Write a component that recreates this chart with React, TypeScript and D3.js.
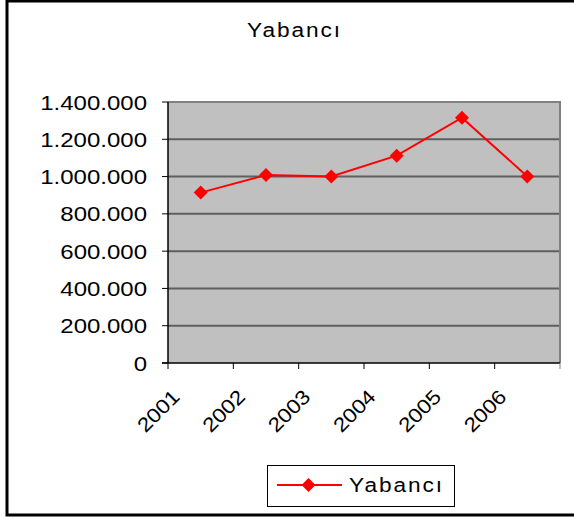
import React from "react";
import * as d3 from "d3";

const years = ["2001", "2002", "2003", "2004", "2005", "2006"];
const values = [914000, 1008000, 1001000, 1112000, 1316000, 1001000];
const yTicks = [0, 200000, 400000, 600000, 800000, 1000000, 1200000, 1400000];
const seriesName = "Yabancı";
const chartTitle = "Yabancı";

const W = 574;
const H = 519;
const plot = { left: 168, right: 560, top: 102, bottom: 363 };
const FONT = "'Liberation Sans', Arial, sans-serif";

const fmt = (v: number) =>
  v === 0 ? "0" : d3.format(",")(v).replace(/,/g, ".");

const diamond = (cx: number, cy: number, r: number) =>
  `M${cx},${cy - r}L${cx + r},${cy}L${cx},${cy + r}L${cx - r},${cy}Z`;

export default function App() {
  const x = d3
    .scaleBand<string>()
    .domain(years)
    .range([plot.left, plot.right])
    .padding(0);
  const y = d3
    .scaleLinear()
    .domain([0, 1400000])
    .range([plot.bottom, plot.top]);

  const line = d3
    .line<number>()
    .x((_, i) => (x(years[i]) as number) + x.bandwidth() / 2)
    .y((d) => y(d));

  const tickXs = [...years.map((yr) => x(yr) as number), plot.right];

  return (
    <svg
      width={W}
      height={H}
      style={{ position: "absolute", left: 0, top: 0, background: "#fff" }}
      fontFamily={FONT}
    >
      <rect x={0} y={0} width={W} height={H} fill="#fff" />
      {/* outer frame */}
      <rect
        x={7}
        y={1}
        width={W + 10}
        height={514}
        fill="none"
        stroke="#000"
        strokeWidth={3}
      />
      {/* title */}
      <text
        transform={`translate(247,37) scale(1.08,1)`}
        fontSize={21}
        letterSpacing={1.8}
        fill="#000"
      >
        {chartTitle}
      </text>

      {/* plot background */}
      <rect
        x={plot.left}
        y={plot.top}
        width={plot.right - plot.left}
        height={plot.bottom - plot.top}
        fill="#C0C0C0"
      />
      {/* gridlines */}
      {yTicks
        .filter((t) => t > 0 && t < 1400000)
        .map((t) => (
          <line
            key={t}
            x1={plot.left}
            x2={plot.right}
            y1={y(t)}
            y2={y(t)}
            stroke="#5f5f5f"
            strokeWidth={2}
          />
        ))}
      {/* plot border top/right */}
      <path
        d={`M${plot.left},${plot.top}H${plot.right}V${plot.bottom}`}
        fill="none"
        stroke="#808080"
        strokeWidth={2}
      />
      {/* y axis */}
      <line
        x1={plot.left}
        x2={plot.left}
        y1={plot.top}
        y2={plot.bottom}
        stroke="#000"
        strokeWidth={1.5}
      />
      {yTicks.map((t) => (
        <g key={t}>
          <line
            x1={plot.left - 6}
            x2={plot.left}
            y1={y(t)}
            y2={y(t)}
            stroke="#000"
            strokeWidth={1}
          />
          <text
            transform={`translate(${plot.left - 21},${y(t) + 7.5}) scale(1.2,1)`}
            textAnchor="end"
            fontSize={20}
            fill="#000"
          >
            {fmt(t)}
          </text>
        </g>
      ))}
      {/* x axis */}
      <line
        x1={plot.left - 6}
        x2={plot.right}
        y1={plot.bottom}
        y2={plot.bottom}
        stroke="#000"
        strokeWidth={1.5}
      />
      {tickXs.map((tx, i) => (
        <line
          key={i}
          x1={tx}
          x2={tx}
          y1={plot.bottom}
          y2={plot.bottom + 6}
          stroke={i === tickXs.length - 1 ? "#808080" : "#000"}
          strokeWidth={1}
        />
      ))}
      {years.map((yr) => {
        const ax = (x(yr) as number) + 13;
        const ay = 398;
        return (
          <text
            key={yr}
            textAnchor="end"
            fontSize={20}
            transform={`translate(${ax},${ay}) rotate(-45) scale(1.13,1)`}
            fill="#000"
          >
            {yr}
          </text>
        );
      })}

      {/* series */}
      <path
        d={line(values) || ""}
        fill="none"
        stroke="#FF0000"
        strokeWidth={2}
      />
      {values.map((v, i) => (
        <path
          key={i}
          d={diamond(
            (x(years[i]) as number) + x.bandwidth() / 2,
            y(v),
            7
          )}
          fill="#FF0000"
        />
      ))}

      {/* legend */}
      <rect
        x={267.5}
        y={465.5}
        width={187}
        height={41}
        fill="#fff"
        stroke="#000"
        strokeWidth={1}
      />
      <line x1={277} x2={342} y1={485} y2={485} stroke="#FF0000" strokeWidth={2} />
      <path d={diamond(308.5, 485, 7)} fill="#FF0000" />
      <text
        transform={`translate(349,492) scale(1.08,1)`}
        fontSize={21}
        letterSpacing={1.8}
        fill="#000"
      >
        {seriesName}
      </text>
    </svg>
  );
}
